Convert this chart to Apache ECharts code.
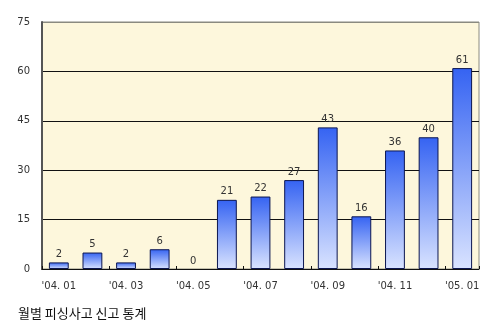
<!DOCTYPE html>
<html>
<head>
<meta charset="utf-8">
<script src="https://cdn.jsdelivr.net/npm/echarts@6/dist/echarts.min.js"></script>
<style>html,body{margin:0;padding:0;background:#fff;}#c{width:500px;height:325px;}</style>
</head>
<body>
<div id="c"></div>
<script>
const categories = ["'04. 01","'04. 02","'04. 03","'04. 04","'04. 05","'04. 06","'04. 07","'04. 08","'04. 09","'04. 10","'04. 11","'04. 12","'05. 01"];
const values = [2,5,2,6,0,21,22,27,43,16,36,40,61];
const yTicks = [0,15,30,45,60,75];
const title = '월별 피싱사고 신고 통계';

const chart = echarts.init(document.getElementById('c'));
chart.setOption({
  animation: false,
  title: {
    text: title, left: 13, top: 302,
    textStyle: {fontFamily: 'Noto Sans CJK KR', fontSize: 13, fontWeight: 'normal', color: '#111'}
  },
  grid: {left: 42, right: 21, top: 22, bottom: 56, show: true, backgroundColor: '#fdf7dc', borderColor: '#8a8a80', borderWidth: 1},
  xAxis: {
    type: 'category', data: categories,
    axisLine: {lineStyle: {color: '#111', width: 1}},
    axisTick: {show: true, inside: true, length: 3, interval: 1, lineStyle: {color: '#111'}},
    axisLabel: {interval: 1, margin: 12, fontFamily: 'DejaVu Sans', fontSize: 10, color: '#333'}
  },
  yAxis: {
    type: 'value', min: yTicks[0], max: yTicks[yTicks.length-1], interval: 15,
    axisLine: {show: true, lineStyle: {color: '#555', width: 2}},
    axisTick: {show: false},
    axisLabel: {margin: 12, fontFamily: 'DejaVu Sans', fontSize: 10, color: '#333'},
    splitLine: {show: true, lineStyle: {color: ['#111','#111','#111','#111','#111','#8a8a80'], width: 1}}
  },
  series: [{
    type: 'bar',
    data: values.map(v => v === 0 ? {value: v, itemStyle: {borderWidth: 0, color: 'rgba(0,0,0,0)'}} : v),
    barCategoryGap: '41%',
    itemStyle: {
      borderColor: '#0c1650', borderWidth: 1,
      color: new echarts.graphic.LinearGradient(0,0,0,1,[{offset:0,color:'#3563f2'},{offset:1,color:'#d9e3ff'}])
    },
    label: {show: true, position: 'top', distance: 3, fontFamily: 'DejaVu Sans', fontSize: 10, color: '#333'}
  }]
});
</script>
</body>
</html>
